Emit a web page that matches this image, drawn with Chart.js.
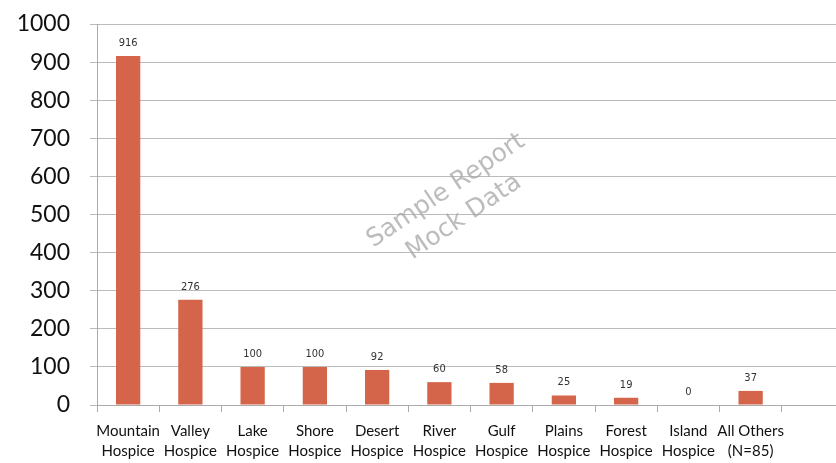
<!DOCTYPE html>
<html>
<head>
<meta charset="utf-8">
<script src="https://cdn.jsdelivr.net/npm/chart.js@4/dist/chart.umd.min.js"></script>
<style>
html,body{margin:0;padding:0;background:#fff;overflow:hidden;width:836px;height:463px;}
canvas{display:block;}
</style>
</head>
<body>
<canvas id="c" width="844" height="463"></canvas>
<script>
const categories = [
  ["Mountain","Hospice"],["Valley","Hospice"],["Lake","Hospice"],["Shore","Hospice"],
  ["Desert","Hospice"],["River","Hospice"],["Gulf","Hospice"],["Plains","Hospice"],
  ["Forest","Hospice"],["Island","Hospice"],["All Others","(N=85)"],""
];
const values = [916, 276, 100, 100, 92, 60, 58, 25, 19, 0, 37, null];
const yTicks = [0,100,200,300,400,500,600,700,800,900,1000];
const watermark = ["Sample Report","Mock Data"];

const valueLabels = {
  id:'valueLabels',
  afterDatasetsDraw(chart){
    const ctx = chart.ctx;
    const meta = chart.getDatasetMeta(0);
    ctx.save();
    ctx.font = '11px "DejaVu Sans Condensed", "DejaVu Sans"';
    ctx.fillStyle = '#333';
    ctx.textAlign = 'center';
    ctx.textBaseline = 'middle';
    meta.data.forEach((bar,i)=>{
      const v = values[i];
      if(v===null || v===undefined) return;
      ctx.fillText(String(v), bar.x, bar.y - 13);
    });
    ctx.restore();
  }
};
const wm = {
  id:'wm',
  afterDraw(chart){
    const ctx = chart.ctx;
    ctx.save();
    ctx.translate(455,204);
    ctx.rotate(-34*Math.PI/180);
    ctx.font = '25px "DejaVu Sans"';
    ctx.fillStyle = 'rgba(165,165,165,0.75)';
    ctx.textAlign = 'center';
    ctx.textBaseline = 'middle';
    ctx.fillText(watermark[0], 0, -16);
    ctx.fillText(watermark[1], 0, 16);
    ctx.restore();
  }
};

new Chart(document.getElementById('c'), {
  type:'bar',
  data:{
    labels: categories,
    datasets:[{
      data: values,
      backgroundColor:'#D5654A',
      barPercentage:0.39,
      categoryPercentage:1
    }]
  },
  options:{
    responsive:false,
    animation:false,
    layout:{padding:{top:24,left:0,right:0,bottom:0}},
    plugins:{legend:{display:false},tooltip:{enabled:false}},
    scales:{
      x:{
        grid:{drawOnChartArea:false,tickLength:7,color:'#aaa',offset:true},
        border:{color:'#aaa'},
        ticks:{color:'#111',font:{family:'Lato',size:15,lineHeight:1.35},padding:9,maxRotation:0,autoSkip:false},
        afterFit(s){ s.height = 58; }
      },
      y:{
        min:0,max:1000,
        afterBuildTicks(s){ s.ticks = yTicks.map(v=>({value:v})); },
        grid:{color:'#bbb',tickLength:7},
        border:{color:'#aaa'},
        ticks:{color:'#111',font:{family:'Lato',size:23,lineHeight:0.8},padding:20,callback:(v)=>String(v)},
        afterFit(s){ s.width = 97; s.paddingTop = 0; s.paddingBottom = 0; }
      }
    }
  },
  plugins:[valueLabels, wm]
});
</script>
</body>
</html>
